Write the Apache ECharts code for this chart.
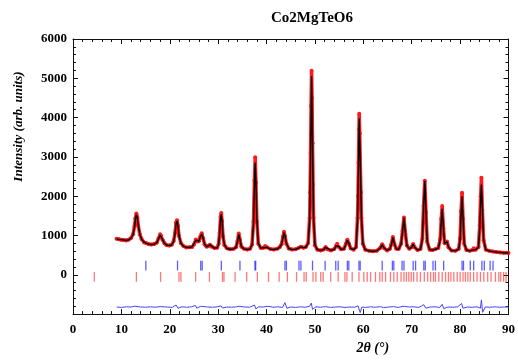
<!DOCTYPE html>
<html>
<head>
<meta charset="utf-8">
<script src="https://cdn.jsdelivr.net/npm/echarts@6/dist/echarts.min.js"></script>
<style>
  html, body {margin: 0; padding: 0; background: #fff;}
  #chart {width: 518px; height: 360px;}
</style>
</head>
<body>
<div id="chart"></div>
<script>
// calculated profile (black line), [2theta, intensity]
var calc = [
  [9.0, 910], [9.5, 900], [10.0, 895], [10.5, 885], [11.0, 880], [11.5, 890], [12.0, 930], [12.4, 1020],
  [12.7, 1200], [12.9, 1420], [13.1, 1530], [13.3, 1450], [13.5, 1250], [13.8, 1040], [14.2, 900],
  [14.7, 830], [15.2, 800], [15.7, 780], [16.2, 770], [16.8, 780], [17.3, 820], [17.7, 920], [18.0, 1010],
  [18.2, 1000], [18.5, 900], [18.9, 800], [19.4, 755], [19.9, 745], [20.4, 760], [20.8, 850], [21.1, 1050],
  [21.3, 1300], [21.5, 1370], [21.7, 1250], [21.9, 1000], [22.3, 810], [22.8, 730], [23.4, 700], [24.0, 695],
  [24.6, 710], [25.0, 760], [25.4, 880], [25.7, 860], [26.0, 850], [26.3, 960], [26.6, 1040], [26.9, 930],
  [27.2, 780], [27.6, 710], [28.0, 730], [28.3, 760], [28.6, 720], [29.2, 680], [29.8, 690], [30.1, 780],
  [30.3, 1050], [30.5, 1450], [30.65, 1540], [30.8, 1380], [31.0, 980], [31.3, 760], [31.8, 670], [32.5, 650],
  [33.2, 660], [33.7, 700], [34.0, 850], [34.25, 1030], [34.5, 900], [34.8, 720], [35.3, 660], [36.0, 645],
  [36.6, 660], [37.0, 760], [37.3, 1300], [37.5, 2300], [37.65, 2850], [37.8, 2400], [38.0, 1400], [38.3, 800],
  [38.8, 680], [39.3, 690], [39.7, 730], [40.1, 700], [40.8, 650], [41.5, 645], [42.2, 660], [42.7, 700],
  [43.1, 780], [43.4, 950], [43.6, 1080], [43.8, 1000], [44.1, 800], [44.6, 670], [45.3, 640], [46.0, 650],
  [46.6, 680], [47.1, 710], [47.6, 690], [48.1, 700], [48.6, 800], [48.9, 1400], [49.1, 3000], [49.3, 5050],
  [49.5, 3400], [49.7, 1500], [50.0, 760], [50.5, 640], [51.2, 620], [51.8, 640], [52.2, 700], [52.6, 650],
  [53.3, 620], [54.0, 650], [54.4, 740], [54.6, 780], [54.9, 720], [55.4, 650], [56.0, 660], [56.4, 780],
  [56.7, 880], [57.0, 800], [57.4, 670], [58.0, 640], [58.5, 700], [58.8, 1400], [59.0, 2800], [59.15, 3980],
  [59.35, 3000], [59.6, 1500], [59.9, 800], [60.4, 640], [61.2, 610], [62.0, 600], [62.8, 610], [63.5, 680],
  [63.9, 770], [64.3, 680], [64.9, 620], [65.5, 660], [65.8, 770], [66.1, 950], [66.4, 800], [66.8, 660],
  [67.3, 650], [67.8, 780], [68.1, 1100], [68.4, 1450], [68.7, 1050], [69.0, 750], [69.5, 660], [70.0, 700],
  [70.3, 780], [70.6, 700], [71.2, 630], [71.8, 650], [72.2, 900], [72.45, 1700], [72.7, 2390], [72.95, 1600],
  [73.2, 850], [73.7, 640], [74.3, 630], [74.9, 650], [75.5, 680], [75.9, 900], [76.1, 1350], [76.3, 1680],
  [76.55, 1200], [76.8, 800], [77.1, 820], [77.3, 840], [77.6, 700], [78.2, 620], [79.0, 610], [79.7, 650],
  [80.0, 900], [80.2, 1550], [80.4, 2000], [80.6, 1450], [80.85, 800], [81.3, 630], [82.0, 610], [82.5, 630],
  [82.8, 670], [83.2, 640], [83.8, 700], [84.05, 1200], [84.25, 1900], [84.4, 2300], [84.6, 1700], [84.85, 900],
  [85.3, 640], [86.0, 610], [86.8, 590], [87.5, 580], [88.3, 570], [89.0, 560], [90.0, 555]
];

// observed points (red dots)
var obs = [
  [9.0, 915], [9.5, 905], [10.0, 890], [10.5, 885], [11.0, 875], [11.5, 895], [12.0, 935], [12.4, 1030],
  [12.7, 1220], [12.9, 1440], [13.1, 1560], [13.3, 1460], [13.5, 1240], [13.8, 1030], [14.2, 905],
  [14.7, 825], [15.2, 805], [15.7, 775], [16.2, 770], [16.8, 785], [17.3, 815], [17.7, 930], [18.0, 1030],
  [18.2, 995], [18.5, 895], [18.9, 805], [19.4, 750], [19.9, 745], [20.4, 765], [20.8, 860], [21.1, 1070],
  [21.3, 1330], [21.5, 1390], [21.7, 1240], [21.9, 990], [22.3, 805], [22.8, 735], [23.4, 695], [24.0, 700],
  [24.6, 705], [25.0, 770], [25.4, 900], [25.7, 850], [26.0, 855], [26.3, 970], [26.6, 1060], [26.9, 925],
  [27.2, 775], [27.6, 715], [28.0, 735], [28.3, 765], [28.6, 715], [29.2, 685], [29.8, 690], [30.1, 790],
  [30.3, 1070], [30.5, 1480], [30.65, 1570], [30.8, 1370], [31.0, 970], [31.3, 755], [31.8, 675], [32.5, 650],
  [33.2, 665], [33.7, 700], [34.0, 860], [34.25, 1050], [34.5, 895], [34.8, 715], [35.3, 665], [36.0, 645],
  [36.6, 665], [37.0, 770], [37.3, 1350], [37.5, 2400], [37.65, 2990], [37.8, 2350], [38.0, 1350], [38.3, 790],
  [38.8, 685], [39.3, 690], [39.7, 735], [40.1, 700], [40.8, 655], [41.5, 645], [42.2, 665], [42.7, 700],
  [43.1, 780], [43.4, 970], [43.6, 1095], [43.8, 990], [44.1, 790], [44.6, 670], [45.3, 645], [46.0, 650],
  [46.6, 685], [47.1, 715], [47.6, 690], [48.1, 705], [48.6, 810], [48.9, 1450], [49.0, 2100], [49.1, 3100],
  [49.2, 4300], [49.3, 5190], [49.4, 4500], [49.5, 3350], [49.6, 2300], [49.7, 1450], [50.0, 750], [50.5, 640],
  [51.2, 620], [51.8, 645], [52.2, 705], [52.6, 650], [53.3, 620], [54.0, 655], [54.4, 745], [54.6, 790],
  [54.9, 715], [55.4, 650], [56.0, 665], [56.4, 790], [56.7, 895], [57.0, 795], [57.4, 670], [58.0, 640],
  [58.5, 705], [58.8, 1450], [58.9, 2000], [59.0, 2850], [59.1, 3700], [59.15, 4100], [59.25, 3600],
  [59.35, 2950], [59.5, 2100], [59.6, 1450], [59.9, 790], [60.4, 640], [61.2, 610], [62.0, 600], [62.8, 615],
  [63.5, 685], [63.9, 780], [64.3, 680], [64.9, 620], [65.5, 665], [65.8, 780], [66.1, 965], [66.4, 795],
  [66.8, 660], [67.3, 655], [67.8, 790], [68.1, 1120], [68.4, 1460], [68.7, 1040], [69.0, 745], [69.5, 660],
  [70.0, 705], [70.3, 785], [70.6, 700], [71.2, 630], [71.8, 655], [72.2, 920], [72.45, 1750], [72.7, 2390],
  [72.95, 1580], [73.2, 840], [73.7, 640], [74.3, 630], [74.9, 655], [75.5, 685], [75.9, 920], [76.1, 1420],
  [76.3, 1750], [76.55, 1180], [76.8, 800], [77.1, 825], [77.3, 845], [77.6, 700], [78.2, 620], [79.0, 610],
  [79.7, 655], [80.0, 930], [80.2, 1620], [80.4, 2090], [80.6, 1420], [80.85, 790], [81.3, 630], [82.0, 610],
  [82.5, 630], [82.8, 675], [83.2, 640], [83.8, 705], [84.05, 1260], [84.25, 2000], [84.4, 2470], [84.6, 1650],
  [84.85, 880], [85.3, 640], [86.0, 610], [86.8, 590], [87.5, 580], [88.3, 570], [89.0, 560], [90.0, 555]
];

// difference curve (blue), obs - calc shifted down
var diff = [
  [9, -820], [10, -830], [11, -815], [12, -820], [12.8, -800], [13.2, -840], [14, -820], [15, -825],
  [16, -815], [17, -825], [18, -810], [18.4, -835], [19.5, -820], [20.5, -830], [21.3, -770], [21.7, -850],
  [22.5, -815], [23.5, -825], [24.5, -815], [25.3, -780], [25.6, -850], [26.4, -800], [26.8, -840],
  [27.8, -820], [28.8, -825], [29.8, -815], [30.6, -790], [30.9, -845], [31.8, -820], [32.8, -825],
  [33.8, -815], [34.3, -800], [34.6, -835], [35.5, -820], [36.5, -825], [37.5, -770], [37.8, -870],
  [38.3, -815], [39.3, -820], [40.3, -800], [41.3, -825], [42.3, -815], [43.3, -830], [43.8, -710],
  [44.2, -850], [45, -820], [46, -830], [47, -815], [48, -825], [48.9, -800], [49.25, -720], [49.5, -880],
  [50.2, -815], [51.2, -825], [52.2, -810], [53.2, -830], [54.2, -820], [55.2, -815], [56.2, -830],
  [57.2, -820], [58.2, -825], [58.9, -790], [59.1, -740], [59.35, -960], [59.7, -820], [60.5, -830],
  [61.5, -815], [62.5, -825], [63.5, -810], [64.2, -835], [65.2, -820], [66.2, -810], [67.2, -830],
  [68.2, -800], [68.6, -850], [69.5, -820], [70.5, -815], [71.5, -830], [72.5, -760], [72.9, -850],
  [73.8, -820], [74.8, -815], [75.8, -830], [76.3, -750], [76.6, -860], [77.5, -820], [78.5, -825],
  [79.5, -815], [80.3, -730], [80.6, -850], [81.5, -820], [82.5, -825], [83.5, -815], [84.2, -850],
  [84.4, -640], [84.65, -955], [85.2, -820], [86.2, -825], [87.2, -815], [88.2, -825], [89.2, -820], [90, -820]
];

// Bragg reflection positions
var blueTicks = [15.05, 21.6, 26.4, 26.7, 30.65, 34.5, 37.6, 37.75, 43.8, 44.1, 46.7, 47.1, 49.5, 52.1,
  54.3, 54.8, 56.7, 57.0, 59.1, 59.35, 63.9, 66.0, 66.3, 68.0, 68.4, 70.3, 70.8, 72.5, 72.8, 74.4, 74.9,
  76.6, 80.4, 80.7, 82.1, 82.8, 84.5, 85.0, 86.2, 86.8];
var redTicks = [4.4, 13.1, 18.1, 21.9, 22.3, 25.35, 28.2, 30.9, 31.2, 33.5, 35.9, 38.1, 40.4, 42.6, 44.3,
  46.2, 47.75, 48.2, 49.6, 50.2, 51.2, 51.7, 53.25, 54.8, 56.2, 56.6, 57.7, 59.1, 60.1, 60.8, 61.5, 62.5,
  63.4, 63.9, 64.6, 65.6, 66.3, 67.0, 67.8, 68.4, 68.9, 69.4, 69.9, 70.4, 71.1, 71.8, 72.6, 73.3, 73.9,
  74.5, 74.9, 75.6, 76.3, 77.0, 77.6, 78.1, 78.7, 79.4, 80.0, 80.6, 81.1, 81.6, 82.1, 82.8, 83.5, 84.2,
  84.9, 85.7, 86.4, 87.3, 88.0, 88.4, 89.0, 89.5];

var xTicks = [0, 90, 10];      // min, max, step
var yTicks = [-1000, 6000, 1000];

var serif = 'Liberation Serif';

function tickSeries(vals, lo, hi, color) {
  return {
    type: 'custom',
    silent: true,
    clip: true,
    z: 2,
    data: vals.map(function (v) { return [v]; }),
    encode: {x: 0},
    renderItem: function (params, api) {
      var a = api.coord([api.value(0), lo]);
      var b = api.coord([api.value(0), hi]);
      return {
        type: 'line',
        shape: {x1: a[0], y1: a[1], x2: b[0], y2: b[1]},
        style: {stroke: color, lineWidth: 1.3}
      };
    }
  };
}

function xAx(pos, labels) {
  return {
    type: 'value', position: pos,
    min: xTicks[0], max: xTicks[1], interval: xTicks[2],
    axisLine: {show: true, onZero: false, lineStyle: {color: '#111', width: 1}},
    axisTick: {show: true, inside: true, length: 5, lineStyle: {color: '#111'}},
    minorTick: {show: true, splitNumber: 5, length: 3, lineStyle: {color: '#111'}},
    splitLine: {show: false},
    axisLabel: {show: labels, margin: 9, color: '#000', fontFamily: serif, fontWeight: 'bold', fontSize: 13}
  };
}

function yAx(pos, labels) {
  return {
    type: 'value', position: pos,
    min: yTicks[0], max: yTicks[1], interval: yTicks[2],
    axisLine: {show: true, onZero: false, lineStyle: {color: '#111', width: 1}},
    axisTick: {show: true, inside: true, length: 5, lineStyle: {color: '#111'}},
    minorTick: {show: true, splitNumber: 5, length: 3, lineStyle: {color: '#111'}},
    splitLine: {show: false},
    axisLabel: {
      show: labels, margin: 6, color: '#000', fontFamily: serif, fontWeight: 'bold', fontSize: 13,
      formatter: function (v) { return v < 0 ? '' : String(v); }
    }
  };
}

var chart = echarts.init(document.getElementById('chart'), null, {renderer: 'canvas'});
var xa0 = xAx('bottom', true);
xa0.name = '2θ (°)';
xa0.nameLocation = 'middle';
xa0.nameGap = 24;
xa0.nameTextStyle = {fontFamily: serif, fontStyle: 'italic', fontWeight: 'bold', fontSize: 14, color: '#000',
  padding: [0, 0, 0, 164]};
var ya0 = yAx('left', true);
ya0.name = 'Intensity (arb. units)';
ya0.nameLocation = 'middle';
ya0.nameGap = 48;
ya0.nameTextStyle = {fontFamily: serif, fontStyle: 'italic', fontWeight: 'bold', fontSize: 13, color: '#000',
  padding: [0, 0, 0, 100]};

chart.setOption({
  animation: false,
  backgroundColor: '#fff',
  title: {
    text: 'Co2MgTeO6', left: 307, top: 6, textAlign: 'center',
    textStyle: {fontFamily: serif, fontWeight: 'bold', fontSize: 15, color: '#000'}
  },
  grid: {left: 73, right: 8, top: 39, bottom: 39, containLabel: false},
  xAxis: [xa0, xAx('top', false)],
  yAxis: [ya0, yAx('right', false)],
  series: [
    tickSeries(blueTicks, 110, 360, 'rgba(40,40,255,0.75)'),
    tickSeries(redTicks, -180, 70, 'rgba(255,30,30,0.6)'),
    {
      type: 'line', data: diff, showSymbol: false, z: 3,
      lineStyle: {color: '#4444ff', width: 1}
    },
    {
      type: 'line', data: obs, symbol: 'circle', symbolSize: 4, showSymbol: true, z: 4,
      itemStyle: {color: '#ff1a1a'},
      lineStyle: {color: '#ff1a1a', width: 3.5}
    },
    {
      type: 'line', data: calc, showSymbol: false, z: 5,
      lineStyle: {color: '#000', width: 1.4}
    }
  ]
});
</script>
</body>
</html>
